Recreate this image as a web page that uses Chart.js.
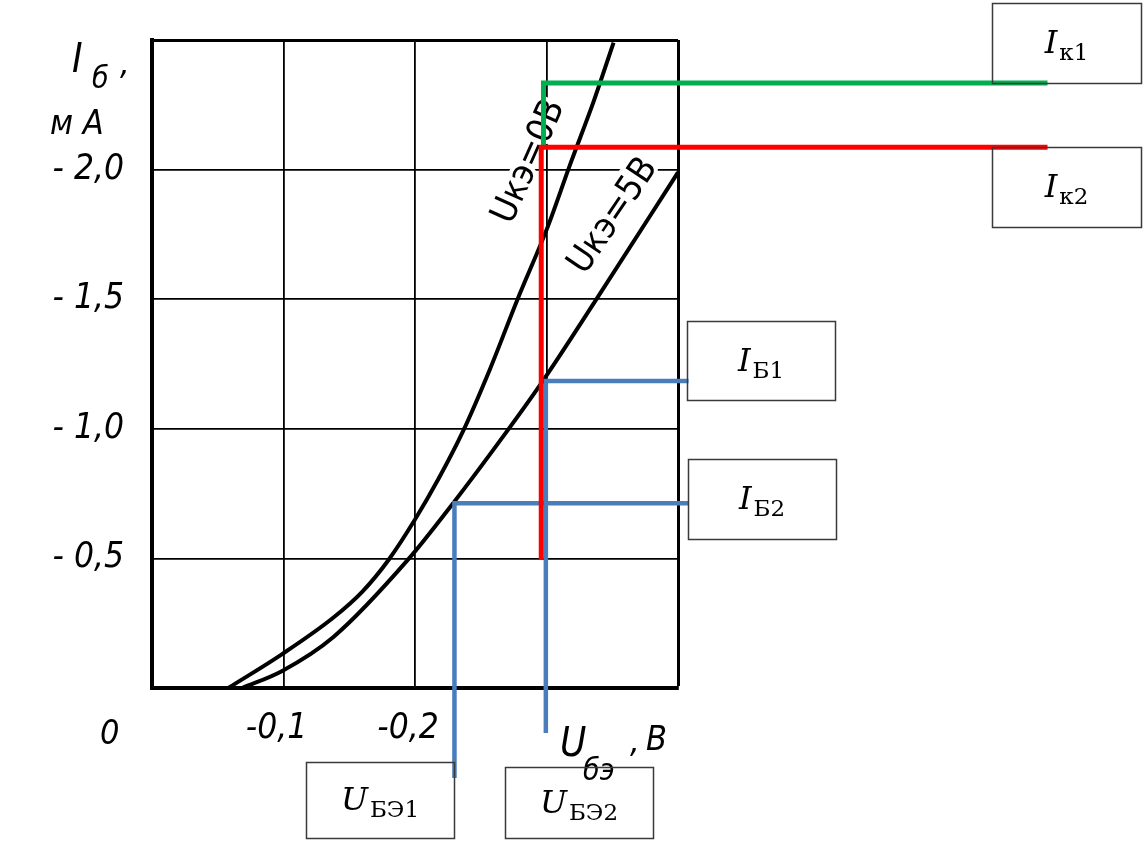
<!DOCTYPE html>
<html>
<head>
<meta charset="utf-8">
<script src="https://cdn.jsdelivr.net/npm/chart.js@4.4.1/dist/chart.umd.min.js"></script>
<style>
  html, body { margin: 0; padding: 0; background: #fff; }
  #wrap { position: relative; width: 1147px; height: 864px; }
</style>
</head>
<body>
<div id="wrap"><canvas id="chart"></canvas></div>
<script>
// Input characteristics I_б(U_бэ)

// Uкэ = 0 B
const uA = [-0.058, -0.099, -0.138, -0.160, -0.180, -0.200, -0.218, -0.236, -0.257, -0.278, -0.301, -0.318, -0.336, -0.351];
const iA = [0, -0.131, -0.272, -0.372, -0.495, -0.650, -0.808, -0.985, -1.230, -1.500, -1.780, -2.020, -2.265, -2.490];

// Uкэ = 5 B
const uB = [-0.0685, -0.099, -0.138, -0.195, -0.229, -0.270, -0.297, -0.338, -0.400];
const iB = [0, -0.066, -0.197, -0.497, -0.713, -0.991, -1.183, -1.500, -1.989];

// construction lines drawn over the plot
const greenU = [-0.2977, -0.2977, -0.681];
const greenI = [-2.086, -2.334, -2.334];
const redU = [-0.296, -0.296, -0.681];
const redI = [-0.494, -2.086, -2.086];
const blue1U = [-0.408, -0.2995, -0.2995];
const blue1I = [-1.184, -1.184, 0.174];
const blue2U = [-0.408, -0.230, -0.230];
const blue2I = [-0.713, -0.713, 0.347];

// tick labels
const uTicks = [0, -0.1, -0.2, -0.3, -0.4];
const uTickLabels = ['', '-0,1', '-0,2', '', ''];
const iTicks = [0, -0.5, -1.0, -1.5, -2.0, -2.5];
const iTickLabels = ['', '- 0,5', '- 1,0', '- 1,5', '- 2,0', ''];

const toPts = (xs, ys) => xs.map((x, k) => ({ x: x, y: ys[k] }));
const findLabel = (vals, labels, v) => {
  const k = vals.findIndex(t => Math.abs(t - v) < 1e-6);
  return k < 0 ? '' : labels[k];
};

const handFont = "'DejaVu Sans Condensed', 'DejaVu Sans', sans-serif";
const boxFont = "'DejaVu Serif', 'Liberation Serif', serif";

function curve(pts) {
  return { data: pts, showLine: true, borderColor: '#000', borderWidth: 4,
           pointRadius: 0, cubicInterpolationMode: 'monotone', fill: false, order: 10 };
}
function guide(pts, color, w, ord) {
  return { data: pts, showLine: true, borderColor: color, borderWidth: w,
           pointRadius: 0, tension: 0, fill: false, clip: false,
           borderCapStyle: 'butt', borderJoinStyle: 'miter', order: ord };
}

// boxes with labels (page pixels)
const boxes = [
  { x: 992, y: 3, w: 149, h: 80, main: 'I', sub: 'к1' },
  { x: 992, y: 147, w: 149, h: 80, main: 'I', sub: 'к2' },
  { x: 687, y: 321, w: 148, h: 79, main: 'I', sub: 'Б1' },
  { x: 688, y: 459, w: 148, h: 80, main: 'I', sub: 'Б2' },
  { x: 306, y: 762, w: 148, h: 76, main: 'U', sub: 'БЭ1' },
  { x: 505, y: 767, w: 148, h: 71, main: 'U', sub: 'БЭ2' },
];

const annot = {
  id: 'annot',
  beforeDatasetsDraw(chart) {
    const ctx = chart.ctx;
    const sx = chart.scales.x, sy = chart.scales.y;
    const labels = [
      { u: -0.287, i: -2.03, a: -66, t: 'Uкэ=0В' },
      { u: -0.351, i: -1.82, a: -56, t: 'Uкэ=5В' },
    ];
    ctx.save();
    ctx.font = '36px ' + handFont;
    ctx.textAlign = 'center';
    ctx.textBaseline = 'middle';
    labels.forEach(l => {
      ctx.save();
      ctx.translate(sx.getPixelForValue(l.u), sy.getPixelForValue(l.i));
      ctx.rotate(l.a * Math.PI / 180);
      ctx.strokeStyle = '#fff';
      ctx.lineWidth = 8;
      ctx.strokeText(l.t, 0, 0);
      ctx.fillStyle = '#000';
      ctx.fillText(l.t, 0, 0);
      ctx.restore();
    });
    ctx.restore();
  },
  afterDraw(chart) {
    const ctx = chart.ctx;
    ctx.save();
    ctx.fillStyle = '#000';
    ctx.textBaseline = 'alphabetic';
    ctx.textAlign = 'left';
    // y axis title
    ctx.font = 'italic 40px ' + handFont;
    ctx.fillText('I', 72, 72);
    ctx.font = 'italic 30px ' + handFont;
    ctx.fillText('б', 92, 88);
    ctx.font = 'italic 34px ' + handFont;
    ctx.fillText(',', 120, 74);
    ctx.fillText('м А', 50, 134);
    // x axis title and origin
    ctx.font = 'italic 40px ' + handFont;
    ctx.fillText('U', 560, 756);
    ctx.font = 'italic 30px ' + handFont;
    ctx.fillText('бэ', 583, 780);
    ctx.font = 'italic 34px ' + handFont;
    ctx.fillText(',', 630, 752);
    ctx.fillText('В', 646, 750);
    ctx.fillText('0', 100, 744);

    // label boxes
    boxes.forEach(b => {
      ctx.strokeStyle = '#3a3a3a';
      ctx.lineWidth = 1.5;
      ctx.strokeRect(b.x + 0.5, b.y + 0.5, b.w, b.h);
      ctx.fillStyle = '#000';
      const mf = 'italic 32px ' + boxFont, sf = '23px ' + boxFont;
      ctx.font = mf; const mw = ctx.measureText(b.main).width;
      ctx.font = sf; const sw = ctx.measureText(b.sub).width;
      const x0 = b.x + b.w / 2 - (mw + sw + 2) / 2;
      const cy = b.y + b.h / 2;
      ctx.font = mf; ctx.fillText(b.main, x0, cy + 10);
      ctx.font = sf; ctx.fillText(b.sub, x0 + mw + 2, cy + 17);
    });
    ctx.restore();
  }
};

new Chart(document.getElementById('chart'), {
  type: 'scatter',
  data: {
    datasets: [
      curve(toPts(uA, iA)),
      curve(toPts(uB, iB)),
      guide(toPts(blue1U, blue1I), '#4a7ebb', 4.5, 3),
      guide(toPts(blue2U, blue2I), '#4a7ebb', 4.5, 3),
      guide(toPts(greenU, greenI), '#00b050', 5, 2),
      guide(toPts(redU, redI), '#ff0000', 5, 1),
    ]
  },
  options: {
    responsive: true,
    maintainAspectRatio: false,
    animation: false,
    layout: { padding: { left: 0, top: 40, right: 469, bottom: 0 } },
    plugins: { legend: { display: false }, tooltip: { enabled: false } },
    scales: {
      x: {
        type: 'linear', min: -0.4, max: 0, reverse: true,
        afterFit(s) { s.height = 176; s.paddingLeft = 0; s.paddingRight = 0; },
        afterBuildTicks(s) { s.ticks = uTicks.map(v => ({ value: v })); },
        ticks: {
          color: '#000', padding: 20, labelOffset: -7, maxRotation: 0,
          font: { family: handFont, size: 35, style: 'italic' },
          callback: v => findLabel(uTicks, uTickLabels, v)
        },
        grid: { color: '#000', drawTicks: false,
                lineWidth: c => (c.tick && Math.abs(c.tick.value + 0.4) < 1e-6) ? 3 : 1.8 },
        border: { color: '#000', width: 4 }
      },
      y: {
        type: 'linear', min: -2.5, max: 0, reverse: true,
        afterFit(s) { s.width = 152; s.paddingTop = 0; s.paddingBottom = 0; },
        afterBuildTicks(s) { s.ticks = iTicks.map(v => ({ value: v })); },
        ticks: {
          color: '#000', padding: 28,
          font: { family: handFont, size: 35, style: 'italic' },
          callback: v => findLabel(iTicks, iTickLabels, v)
        },
        grid: { color: '#000', drawTicks: false,
                lineWidth: c => (c.tick && Math.abs(c.tick.value + 2.5) < 1e-6) ? 3 : 1.8 },
        border: { color: '#000', width: 4 }
      }
    }
  },
  plugins: [annot]
});
</script>
</body>
</html>
